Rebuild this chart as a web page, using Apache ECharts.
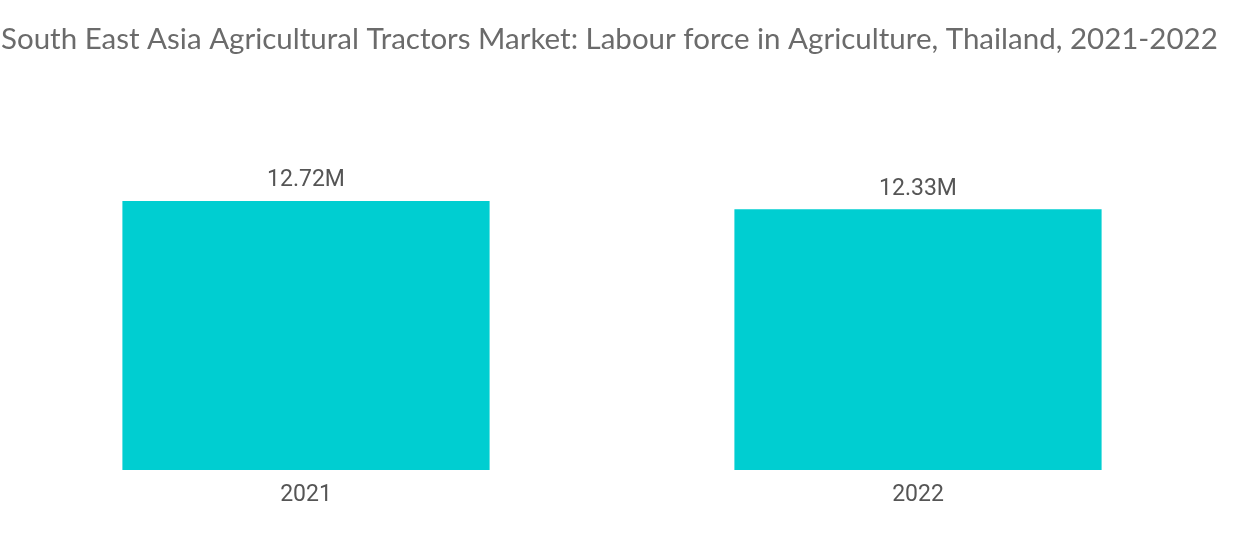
<!DOCTYPE html>
<html><head><meta charset="utf-8">
<script src="https://cdn.jsdelivr.net/npm/echarts@6/dist/echarts.min.js"></script>
<style>html,body{margin:0;padding:0;background:#fff}#c{width:1234px;height:541px}</style>
</head><body><div id="c"></div>
<script>
const categories = ['2021', '2022'];
const values = [12.72, 12.33];
const titleText = 'South East Asia Agricultural Tractors Market: Labour force in Agriculture, Thailand, 2021-2022';
const chart = echarts.init(document.getElementById('c'));
chart.setOption({
  animation: false,
  title: {
    text: titleText, left: -4, top: 19,
    textStyle: { fontFamily: 'Lato', fontWeight: 'normal', fontSize: 29.5, color: '#6b6b6b' }
  },
  grid: { left: -4, right: 10, top: 174, bottom: 71 },
  xAxis: {
    type: 'category', data: categories,
    axisLine: { show: false }, axisTick: { show: false },
    axisLabel: { color: '#555', fontSize: 23, fontFamily: 'Roboto', margin: 14 }
  },
  yAxis: { type: 'value', min: 0, max: 14, show: false, splitLine: { show: false } },
  series: [{
    type: 'bar', data: values, barWidth: '60%',
    itemStyle: { color: '#00CED1' },
    label: {
      show: true, position: 'top', distance: 9,
      formatter: p => p.value.toFixed(2) + 'M',
      color: '#555', fontSize: 23, fontFamily: 'Roboto'
    }
  }]
});
</script></body></html>
